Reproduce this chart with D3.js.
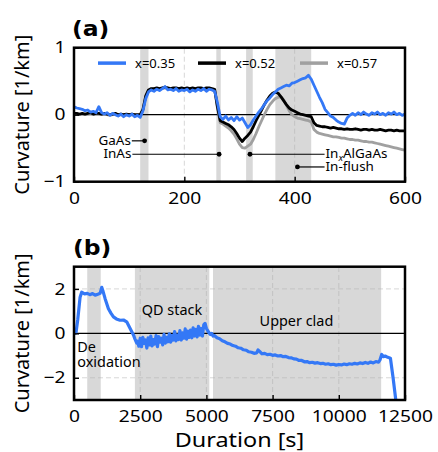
<!DOCTYPE html>
<html>
<head>
<meta charset="utf-8">
<script src="https://cdn.jsdelivr.net/npm/d3@7"></script>
<style>body{margin:0;background:#fff}</style>
</head>
<body>
<svg id="fig" width="438" height="452"></svg>
<script>
// ---- data panel (a) : curvature vs time [s], step 5 s
var timeA = d3.range(0, 601, 5);

var blueA = [
  0.12, 0.10, 0.09, 0.08, 0.06, 0.07, 0.04, 0.05, 0.03, 0.12,
  0.03, 0.01, 0.03, -0.01, 0.02, 0.00, -0.02, 0.01, -0.03, 0.00,
  -0.02, 0.01, -0.03, -0.01, -0.04, 0.06, 0.24, 0.34, 0.37, 0.35,
  0.38, 0.36, 0.39, 0.42, 0.37, 0.38, 0.36, 0.39, 0.35, 0.37,
  0.36, 0.38, 0.34, 0.37, 0.35, 0.38, 0.36, 0.39, 0.35, 0.38,
  0.37, 0.35, 0.18, -0.03, -0.07, -0.02, -0.08, -0.04, -0.09, -0.03,
  -0.08, -0.05, -0.12, -0.19, -0.15, -0.08, -0.02, 0.04, 0.09, 0.15,
  0.21, 0.25, 0.30, 0.34, 0.38, 0.40, 0.42, 0.44, 0.43, 0.47,
  0.48, 0.50, 0.52, 0.54, 0.55, 0.59, 0.53, 0.44, 0.35, 0.26,
  0.18, 0.08, 0.03, -0.02, -0.04, -0.08, -0.11, -0.13, -0.14, -0.05,
  -0.01, 0.02, -0.01, 0.03, 0.00, 0.04, 0.01, -0.01, 0.03, 0.01,
  0.04, 0.00, 0.02, -0.01, 0.03, 0.01, 0.04, 0.00, 0.02, -0.01,
  0.01
];

var blackA = [
  0.02, 0.02, 0.01, 0.02, 0.01, 0.02, 0.03, 0.01, 0.02, 0.02,
  0.01, 0.02, 0.01, 0.00, 0.01, 0.02, 0.00, 0.01, 0.00, 0.01,
  0.00, 0.01, 0.00, 0.00, 0.00, 0.08, 0.28, 0.37, 0.39, 0.39,
  0.40, 0.39, 0.40, 0.41, 0.40, 0.39, 0.40, 0.40, 0.39, 0.40,
  0.39, 0.40, 0.39, 0.40, 0.39, 0.40, 0.40, 0.39, 0.40, 0.40,
  0.39, 0.38, 0.12, -0.09, -0.11, -0.13, -0.15, -0.18, -0.22, -0.28,
  -0.35, -0.40, -0.35, -0.31, -0.26, -0.18, -0.09, -0.01, 0.07, 0.15,
  0.22, 0.28, 0.32, 0.34, 0.32, 0.27, 0.21, 0.15, 0.10, 0.07,
  0.05, 0.03, 0.01, 0.00, -0.01, -0.02, -0.03, -0.12, -0.16, -0.17,
  -0.18, -0.18, -0.19, -0.20, -0.19, -0.20, -0.21, -0.21, -0.22, -0.21,
  -0.22, -0.22, -0.21, -0.22, -0.23, -0.22, -0.22, -0.23, -0.22, -0.23,
  -0.23, -0.22, -0.23, -0.24, -0.23, -0.23, -0.24, -0.23, -0.24, -0.24,
  -0.24
];

var grayA = [
  0.01, 0.01, 0.00, 0.01, 0.00, 0.01, 0.02, 0.00, 0.01, 0.01,
  0.00, 0.01, 0.00, -0.01, 0.00, 0.01, -0.01, 0.00, -0.01, 0.00,
  -0.01, 0.00, -0.01, -0.01, -0.01, 0.07, 0.27, 0.36, 0.38, 0.38,
  0.39, 0.38, 0.39, 0.40, 0.39, 0.38, 0.39, 0.39, 0.38, 0.39,
  0.38, 0.39, 0.38, 0.39, 0.38, 0.39, 0.39, 0.38, 0.39, 0.39,
  0.38, 0.37, 0.10, -0.12, -0.14, -0.17, -0.20, -0.24, -0.29, -0.36,
  -0.44, -0.49, -0.50, -0.47, -0.44, -0.37, -0.28, -0.18, -0.09, 0.00,
  0.08, 0.15, 0.20, 0.24, 0.26, 0.27, 0.22, 0.14, 0.06, 0.00,
  -0.03, -0.05, -0.06, -0.07, -0.08, -0.09, -0.11, -0.22, -0.26, -0.28,
  -0.29, -0.30, -0.31, -0.32, -0.33, -0.33, -0.34, -0.35, -0.35, -0.36,
  -0.37, -0.37, -0.38, -0.38, -0.39, -0.40, -0.40, -0.41, -0.41, -0.42,
  -0.43, -0.44, -0.45, -0.46, -0.47, -0.48, -0.49, -0.50, -0.51, -0.52,
  -0.53
];

var seriesNames = ["x=0.35", "x=0.52", "x=0.57"];
var seriesColors = ["#3478f6", "#000000", "#a0a0a0"];

// shaded growth steps in (a) [start, end] in s
var shadeA = [[120, 135], [258, 266], [312, 324], [365, 430]];

// annotations (a)
var annLabels = ["GaAs", "InAs", "In_xAlGaAs", "In-flush"];
var annPointT = [128, 263, 319, 405];
var annPointV = [-0.39, -0.59, -0.59, -0.78];
var annTextT = [103, 104, 456, 456];
var annSide = ["end", "end", "start", "start"];

// ---- data panel (b) : full growth
var timeB = [
  0, 75, 140, 230, 290, 400, 500, 600, 700, 800, 900, 985, 1047, 1100, 1175, 1300, 1400, 1490, 1600, 1740, 1870, 1990, 2120, 2245, 2300, 2370,
  2400, 2450, 2500, 2550, 2600, 2650, 2700, 2750, 2800, 2850, 2900, 2950, 3000, 3050, 3100, 3150, 3200, 3250, 3300, 3350,
  3400, 3450, 3500, 3550, 3600, 3650, 3700, 3750, 3800, 3850, 3900, 3950, 4000, 4050, 4100, 4150, 4200, 4250, 4300, 4350,
  4400, 4450, 4500, 4550, 4600, 4650, 4700, 4750, 4800, 4850, 4900, 4950, 5000, 5050, 5100,
  5150, 5200, 5250, 5300, 5400, 5500, 5600, 5700, 5800, 5900, 6000, 6100, 6200, 6300, 6400, 6500, 6600, 6700, 6800, 6900, 6950,
  7000, 7100, 7200, 7300, 7400, 7500, 7600, 7700, 7800, 7900, 8000, 8100, 8200, 8300, 8400, 8500, 8600, 8700, 8800, 8900,
  9000, 9100, 9200, 9300, 9400, 9500, 9600, 9700, 9800, 9900, 10000, 10100, 10200, 10300, 10400, 10500, 10600, 10700, 10800, 10900,
  11000, 11100, 11200, 11300, 11400, 11500, 11560, 11620, 11680, 11750, 11850, 11950, 12050, 12150, 12250
];
var curvB = [
  0.00, 0.02, 0.60, 1.63, 1.85, 1.78, 1.80, 1.74, 1.79, 1.72, 1.76, 1.80, 2.07, 1.88, 1.56, 1.11, 0.90, 0.74, 0.65, 0.59, 0.60, 0.52, 0.22, -0.07, -0.25, -0.44,
  -0.35, -0.58, -0.22, -0.60, -0.18, -0.45, -0.30, -0.66, -0.20, -0.52, -0.12, -0.57, -0.28, -0.48, -0.10, -0.60, -0.15, -0.40, -0.22, -0.52,
  -0.05, -0.44, -0.18, -0.38, -0.02, -0.40, -0.10, -0.30, 0.08, -0.34, -0.08, -0.28, 0.12, -0.30, 0.02, -0.22, 0.20, -0.26, 0.10, -0.18,
  0.15, -0.20, 0.25, -0.12, 0.18, -0.16, 0.32, -0.08, 0.22, -0.12, 0.38, 0.45, 0.22, 0.12, 0.02,
  -0.05, 0.00, -0.12, -0.10, -0.20, -0.24, -0.33, -0.38, -0.45, -0.48, -0.55, -0.58, -0.65, -0.67, -0.74, -0.76, -0.83, -0.85, -0.90, -0.88, -0.75,
  -0.80, -0.92, -0.90, -0.96, -0.94, -0.99, -0.97, -1.02, -1.00, -1.05, -1.04, -1.09, -1.10, -1.15, -1.16, -1.22, -1.22, -1.28, -1.27, -1.32,
  -1.30, -1.34, -1.32, -1.36, -1.35, -1.39, -1.37, -1.41, -1.39, -1.43, -1.40, -1.42, -1.38, -1.41, -1.37, -1.39, -1.35, -1.38, -1.33, -1.36,
  -1.31, -1.35, -1.29, -1.33, -1.27, -1.30, -1.18, -0.95, -1.05, -1.02, -1.08, -1.12, -2.00, -2.98, -3.80
];

var shadeB = [[500, 1010], [2300, 5110], [5250, 11600]];
var annB = ["QD stack", "Upper clad"];
var annBT = [3700, 8400];
var annBV = [0.81, 0.35];

var ticksAx = [0, 200, 400, 600], ticksAy = [-1, 0, 1];
var ticksBx = [0, 2500, 5000, 7500, 10000, 12500], ticksBy = [-2, 0, 2];

// ---- drawing
var FONT = "'Noto Sans', 'Open Sans', sans-serif";
var svg = d3.select("#fig");
svg.append("rect").attr("width", 438).attr("height", 452).attr("fill", "#fff");

var L = 74, R = 405;
var xA = d3.scaleLinear().domain([0, 600]).range([L, R]);
var yA = d3.scaleLinear().domain([-1, 1]).range([181.7, 47.7]);
var xB = d3.scaleLinear().domain([0, 12500]).range([L, R]);
var yB = d3.scaleLinear().domain([-3, 3]).range([400, 266.7]);

function txt(g, x, y, s, size, anchor, sx) {
  return g.append("text")
    .attr("transform", "translate(" + x + "," + y + ") scale(" + sx + ",1)")
    .attr("text-anchor", anchor)
    .attr("font-family", FONT)
    .attr("font-size", size)
    .attr("fill", "#000")
    .text(s);
}

function panel(id, x, y, shade, gx, gy) {
  var g = svg.append("g");
  g.append("clipPath").attr("id", id).append("rect")
    .attr("x", x.range()[0]).attr("y", y.range()[1])
    .attr("width", x.range()[1] - x.range()[0]).attr("height", y.range()[0] - y.range()[1]);

  g.selectAll(".shade").data(shade).enter().append("rect")
    .attr("x", function (d) { return x(d[0]); })
    .attr("width", function (d) { return x(d[1]) - x(d[0]); })
    .attr("y", y.range()[1]).attr("height", y.range()[0] - y.range()[1])
    .attr("fill", "#d8d8d8");

  // grid
  g.selectAll(".gx").data(gx).enter().append("line")
    .attr("x1", x).attr("x2", x).attr("y1", y.range()[0]).attr("y2", y.range()[1])
    .attr("stroke", "#b0b0b0").attr("stroke-opacity", 0.5).attr("stroke-dasharray", "5,3");
  g.selectAll(".gy").data(gy).enter().append("line")
    .attr("y1", y).attr("y2", y).attr("x1", x.range()[0]).attr("x2", x.range()[1])
    .attr("stroke", "#b0b0b0").attr("stroke-opacity", 0.5).attr("stroke-dasharray", "5,3");

  g.append("line").attr("x1", x.range()[0]).attr("x2", x.range()[1])
    .attr("y1", y(0)).attr("y2", y(0)).attr("stroke", "#000").attr("stroke-width", 1.3);
  return g;
}

function axes(g, x, y, tx, ty) {
  var ax = g.append("g").attr("transform", "translate(0," + y.range()[0] + ")")
    .call(d3.axisBottom(x).tickValues(tx).tickFormat(d3.format("d")).tickSizeInner(-5).tickSizeOuter(0).tickPadding(11));
  ax.select(".domain").remove();
  ax.selectAll("line").attr("stroke-width", 1.4);
  ax.selectAll("text").attr("font-size", 16).attr("font-family", FONT).attr("fill", "#000")
    .attr("transform", "scale(1.2,1)");

  var ay = g.append("g").attr("transform", "translate(" + x.range()[0] + ",0)")
    .call(d3.axisLeft(y).tickValues(ty).tickFormat(d3.format("d")).tickSizeInner(-5).tickSizeOuter(0).tickPadding(8));
  ay.select(".domain").remove();
  ay.selectAll("line").attr("stroke-width", 1.4);
  ay.selectAll("text").attr("font-size", 16).attr("font-family", FONT).attr("fill", "#000")
    .attr("x", -8.5 / 1.2).attr("transform", "scale(1.2,1)");

  g.append("rect").attr("x", x.range()[0]).attr("y", y.range()[1])
    .attr("width", x.range()[1] - x.range()[0]).attr("height", y.range()[0] - y.range()[1])
    .attr("fill", "none").attr("stroke", "#000").attr("stroke-width", 2.5);

  g.append("text")
    .attr("transform", "translate(29," + (y.range()[0] + y.range()[1]) / 2 + ") rotate(-90)")
    .attr("text-anchor", "middle").attr("font-family", FONT).attr("font-size", 20)
    .text("Curvature [1/km]");
}

// ---- panel (a)
var gA = panel("clipA", xA, yA, shadeA, [200, 400], []);
var lineA = function (vals) {
  return d3.line().x(function (d, i) { return xA(timeA[i]); }).y(function (d) { return yA(d); })(vals);
};
[grayA, blackA, blueA].forEach(function (vals, k) {
  var c = [seriesColors[2], seriesColors[1], seriesColors[0]][k];
  gA.append("path").attr("d", lineA(vals)).attr("fill", "none").attr("stroke", c)
    .attr("stroke-width", 2.8).attr("stroke-linejoin", "round").attr("clip-path", "url(#clipA)");
});

// legend
var legX = [98, 198, 300], legY = yA(0.77);
seriesNames.forEach(function (n, i) {
  gA.append("line").attr("x1", legX[i]).attr("x2", legX[i] + 28).attr("y1", legY).attr("y2", legY)
    .attr("stroke", seriesColors[i]).attr("stroke-width", 3.5);
  txt(gA, legX[i] + 37, legY + 4.6, n, 13, "start", 1.0);
});

// annotations
annLabels.forEach(function (lab, i) {
  var px = xA(annPointT[i]), py = yA(annPointV[i]), tx = xA(annTextT[i]);
  var x0 = annSide[i] === "end" ? tx + 1 : tx - 1;
  gA.append("line").attr("x1", x0).attr("x2", px).attr("y1", py).attr("y2", py)
    .attr("stroke", "#000").attr("stroke-width", 1.2);
  gA.append("circle").attr("cx", px).attr("cy", py).attr("r", 2.4).attr("fill", "#000");
  var t = txt(gA, tx, py + 4.2, "", 12, annSide[i], 1.12);
  if (lab.indexOf("_") >= 0) {
    t.append("tspan").text("In");
    t.append("tspan").text("x").attr("font-style", "italic").attr("font-size", 8.5).attr("dy", 2.5);
    t.append("tspan").text("AlGaAs").attr("dy", -2.5);
  } else {
    t.text(lab);
  }
});
axes(gA, xA, yA, ticksAx, ticksAy);
svg.append("text").attr("transform", "translate(72,35.5) scale(1.12,1)")
  .attr("font-family", "'DejaVu Sans', sans-serif").attr("font-weight", "bold").attr("font-size", 21).text("(a)");

// ---- panel (b)
var gB = panel("clipB", xB, yB, shadeB, [2500, 5000, 7500, 10000], [-2, 2]);
gB.append("path")
  .attr("d", d3.line().x(function (d, i) { return xB(timeB[i]); }).y(function (d) { return yB(d); })(curvB))
  .attr("fill", "none").attr("stroke", seriesColors[0]).attr("stroke-width", 3.2)
  .attr("stroke-linejoin", "round").attr("clip-path", "url(#clipB)");

annB.forEach(function (s, i) {
  txt(gB, xB(annBT[i]), yB(annBV[i]), s, 14, "middle", 1.03);
});
txt(gB, xB(125), yB(-0.83), "De", 14, "start", 1.03);
txt(gB, xB(125), yB(-1.5), "oxidation", 14, "start", 1.03);

axes(gB, xB, yB, ticksBx, ticksBy);
svg.append("text").attr("transform", "translate(73,255) scale(1.12,1)")
  .attr("font-family", "'DejaVu Sans', sans-serif").attr("font-weight", "bold").attr("font-size", 21).text("(b)");

txt(svg, (L + R) / 2, 447, "Duration [s]", 19.5, "middle", 1.2);
</script>
</body>
</html>
